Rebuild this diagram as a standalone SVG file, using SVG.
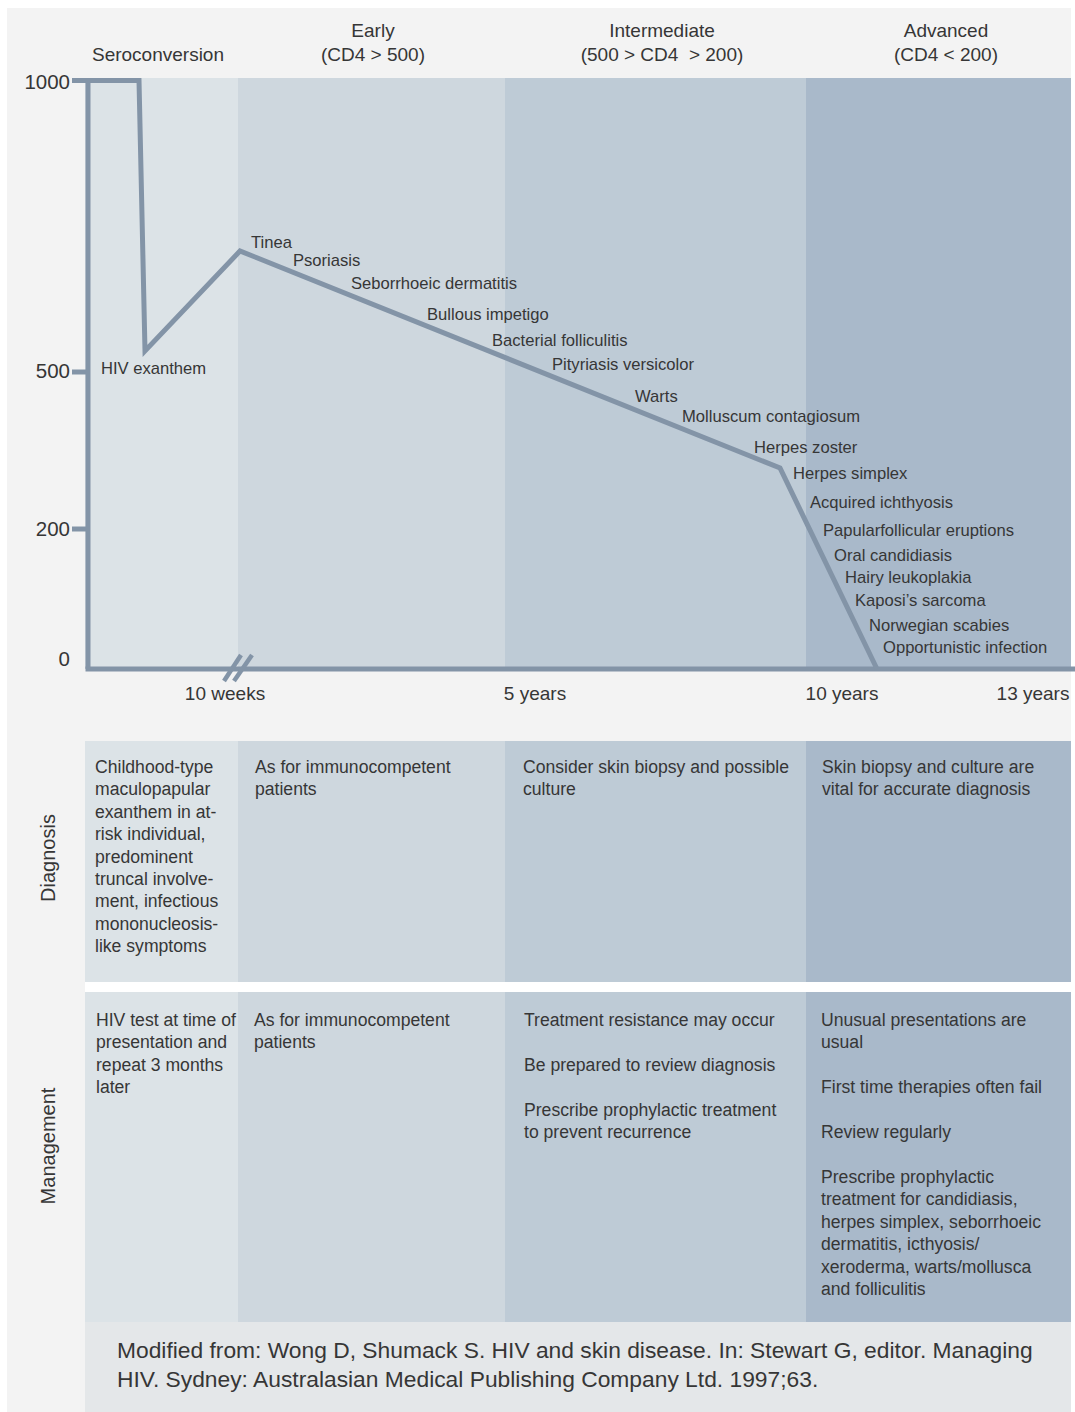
<svg xmlns="http://www.w3.org/2000/svg" width="1075" height="1412" viewBox="0 0 1075 1412">
<style>
text{font-family:"Liberation Sans",Arial,sans-serif;fill:#363636}
.hd{font-size:19px;text-anchor:middle}
.ax{font-size:20.5px;text-anchor:end}
.xl{font-size:19px;text-anchor:middle}
.lb{font-size:16.6px}
.tb{font-size:17.6px}
.rl{font-size:20px;text-anchor:middle}
.cit{font-size:22.8px}
.line{fill:none;stroke:#8394a7;stroke-width:5;stroke-linejoin:miter}
.s{fill:#dce3e7}.e{fill:#ced7de}.i{fill:#becbd6}.a{fill:#a9b9ca}
</style>
<rect x="0" y="0" width="1075" height="1412" fill="#ffffff"/>
<rect x="7" y="8" width="1064" height="1404" fill="#f3f3f3"/>
<g id="bands">
<rect class="s" x="85" y="78" width="153" height="590"/>
<rect class="e" x="238" y="78" width="267" height="590"/>
<rect class="i" x="505" y="78" width="301" height="590"/>
<rect class="a" x="806" y="78" width="265" height="590"/>
</g>
<g id="headers">
<text class="hd" x="158" y="61">Seroconversion</text>
<text class="hd" x="373" y="37">Early</text>
<text class="hd" x="373" y="61">(CD4 &gt; 500)</text>
<text class="hd" x="662" y="37">Intermediate</text>
<text class="hd" x="662" y="61" xml:space="preserve">(500 &gt; CD4  &gt; 200)</text>
<text class="hd" x="946" y="37">Advanced</text>
<text class="hd" x="946" y="61">(CD4 &lt; 200)</text>
</g>
<g id="axes">
<line class="line" x1="88" y1="78" x2="88" y2="669"/>
<line class="line" x1="85.5" y1="669" x2="1075" y2="669"/>
<line class="line" x1="72" y1="372" x2="88" y2="372"/>
<line class="line" x1="72" y1="529" x2="88" y2="529"/>
<line class="line" x1="224" y1="681" x2="241" y2="655" style="stroke-width:4.5"/>
<line class="line" x1="234" y1="681" x2="252" y2="655" style="stroke-width:4.5"/>
<text class="ax" x="70" y="89">1000</text>
<text class="ax" x="70" y="378">500</text>
<text class="ax" x="70" y="536">200</text>
<text class="ax" x="70" y="666">0</text>
<text class="xl" x="225" y="700">10 weeks</text>
<text class="xl" x="535" y="700">5 years</text>
<text class="xl" x="842" y="700">10 years</text>
<text class="xl" x="1033" y="700">13 years</text>
</g>
<g id="connectors">
<polyline class="line" points="72,80.5 139,80.5 145,351 240,251 780,468 877,669"/>
</g>
<g id="conditions">
<text class="lb" x="101" y="374">HIV exanthem</text>
<text class="lb" x="251" y="248">Tinea</text>
<text class="lb" x="293" y="266">Psoriasis</text>
<text class="lb" x="351" y="289">Seborrhoeic dermatitis</text>
<text class="lb" x="427" y="320">Bullous impetigo</text>
<text class="lb" x="492" y="346">Bacterial folliculitis</text>
<text class="lb" x="552" y="370">Pityriasis versicolor</text>
<text class="lb" x="635" y="402">Warts</text>
<text class="lb" x="682" y="422">Molluscum contagiosum</text>
<text class="lb" x="754" y="453">Herpes zoster</text>
<text class="lb" x="793" y="479">Herpes simplex</text>
<text class="lb" x="810" y="508">Acquired ichthyosis</text>
<text class="lb" x="823" y="536">Papularfollicular eruptions</text>
<text class="lb" x="834" y="561">Oral candidiasis</text>
<text class="lb" x="845" y="583">Hairy leukoplakia</text>
<text class="lb" x="855" y="606">Kaposi’s sarcoma</text>
<text class="lb" x="869" y="631">Norwegian scabies</text>
<text class="lb" x="883" y="653">Opportunistic infection</text>
</g>
<g id="diagnosis-row">
<rect class="s" x="85" y="741" width="153" height="241"/>
<rect class="e" x="238" y="741" width="267" height="241"/>
<rect class="i" x="505" y="741" width="301" height="241"/>
<rect class="a" x="806" y="741" width="265" height="241"/>
<rect x="85" y="982" width="986" height="10" fill="#ffffff"/>
<text class="rl" transform="translate(55,858) rotate(-90)">Diagnosis</text>
<text class="tb" x="95" y="773">Childhood-type<tspan x="95" dy="22.4">maculopapular</tspan><tspan x="95" dy="22.4">exanthem in at-</tspan><tspan x="95" dy="22.4">risk individual,</tspan><tspan x="95" dy="22.4">predominent</tspan><tspan x="95" dy="22.4">truncal involve-</tspan><tspan x="95" dy="22.4">ment, infectious</tspan><tspan x="95" dy="22.4">mononucleosis-</tspan><tspan x="95" dy="22.4">like symptoms</tspan></text>
<text class="tb" x="255" y="773">As for immunocompetent<tspan x="255" dy="22.4">patients</tspan></text>
<text class="tb" x="523" y="773">Consider skin biopsy and possible<tspan x="523" dy="22.4">culture</tspan></text>
<text class="tb" x="822" y="773">Skin biopsy and culture are<tspan x="822" dy="22.4">vital for accurate diagnosis</tspan></text>
</g>
<g id="management-row">
<rect class="s" x="85" y="992" width="153" height="330"/>
<rect class="e" x="238" y="992" width="267" height="330"/>
<rect class="i" x="505" y="992" width="301" height="330"/>
<rect class="a" x="806" y="992" width="265" height="330"/>
<text class="rl" transform="translate(55,1146) rotate(-90)">Management</text>
<text class="tb" x="96" y="1026">HIV test at time of<tspan x="96" dy="22.4">presentation and</tspan><tspan x="96" dy="22.4">repeat 3 months</tspan><tspan x="96" dy="22.4">later</tspan></text>
<text class="tb" x="254" y="1026">As for immunocompetent<tspan x="254" dy="22.4">patients</tspan></text>
<text class="tb" x="524" y="1026">Treatment resistance may occur</text>
<text class="tb" x="524" y="1071">Be prepared to review diagnosis</text>
<text class="tb" x="524" y="1116">Prescribe prophylactic treatment<tspan x="524" dy="22.4">to prevent recurrence</tspan></text>
<text class="tb" x="821" y="1026">Unusual presentations are<tspan x="821" dy="22.4">usual</tspan></text>
<text class="tb" x="821" y="1093">First time therapies often fail</text>
<text class="tb" x="821" y="1138">Review regularly</text>
<text class="tb" x="821" y="1183">Prescribe prophylactic<tspan x="821" dy="22.4">treatment for candidiasis,</tspan><tspan x="821" dy="22.4">herpes simplex, seborrhoeic</tspan><tspan x="821" dy="22.4">dermatitis, icthyosis/</tspan><tspan x="821" dy="22.4">xeroderma, warts/mollusca</tspan><tspan x="821" dy="22.4">and folliculitis</tspan></text>
</g>
<g id="citation">
<rect x="85" y="1322" width="986" height="90" fill="#e4e7e9"/>
<text class="cit" x="117" y="1358">Modified from: Wong D, Shumack S. HIV and skin disease. In: Stewart G, editor. Managing</text>
<text class="cit" x="117" y="1387">HIV. Sydney: Australasian Medical Publishing Company Ltd. 1997;63.</text>
</g>
</svg>
